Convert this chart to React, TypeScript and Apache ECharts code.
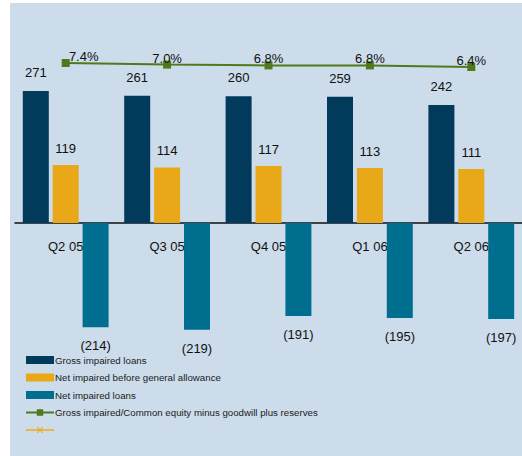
import React, { useEffect, useRef } from "react";
import * as echarts from "echarts";

const categories = ["Q2 05", "Q3 05", "Q4 05", "Q1 06", "Q2 06"];
const grossImpaired = [271, 261, 260, 259, 242];
const netBeforeAllowance = [119, 114, 117, 113, 111];
const netImpaired = [-214, -219, -191, -195, -197];
const ratioPct = [7.4, 7.0, 6.8, 6.8, 6.4];

const seriesNames = [
  "Gross impaired loans",
  "Net impaired before general allowance",
  "Net impaired loans",
  "Gross impaired/Common equity minus goodwill plus reserves",
  " ",
];

const crossPath =
  "path://M0,1L1,0L5,4L9,0L10,1L6,5L10,9L9,10L5,6L1,10L0,9L4,5Z";

export default function App() {
  const ref = useRef<HTMLDivElement>(null);
  useEffect(() => {
    if (!ref.current) return;
    const chart = echarts.init(ref.current, undefined, { renderer: "svg" });
    const font = "Liberation Sans, Arial, sans-serif";
    chart.setOption({
      animation: false,
      textStyle: { fontFamily: font },
      graphic: [
        {
          type: "rect",
          left: 10,
          top: 3,
          z: -10,
          shape: { width: 512, height: 453 },
          style: { fill: "#CCDCEB" },
          silent: true,
        },
      ],
      grid: { left: 15, top: 28, width: 511, height: 390, containLabel: false },
      legend: {
        orient: "vertical",
        left: 25,
        top: 354,
        itemWidth: 28,
        itemHeight: 8,
        itemGap: 5.5,
        padding: 0,
        data: [
          { name: seriesNames[0], icon: "rect" },
          { name: seriesNames[1], icon: "rect" },
          { name: seriesNames[2], icon: "rect" },
          { name: seriesNames[3] },
          { name: seriesNames[4] },
        ],
        textStyle: {
          fontSize: 9.7,
          color: "#1a1a1a",
          lineHeight: 12,
          fontFamily: font,
          padding: [0, 0, 0, -4],
        },
        selectedMode: false,
      },
      xAxis: {
        type: "category",
        data: categories,
        axisLine: { onZero: true, lineStyle: { color: "#111", width: 1.5 } },
        axisTick: { show: false },
        axisLabel: { fontSize: 13, color: "#111", margin: -178 },
      },
      yAxis: [
        { type: "value", min: -400, max: 400, show: false, splitLine: { show: false } },
        { type: "value", min: -81.35, max: 16.15, show: false, splitLine: { show: false } },
      ],
      series: [
        {
          name: seriesNames[0],
          type: "bar",
          data: grossImpaired,
          barWidth: 26,
          barGap: "15%",
          itemStyle: { color: "#023A5C" },
          label: { show: true, position: "top", distance: 12, fontSize: 13, color: "#111" },
        },
        {
          name: seriesNames[1],
          type: "bar",
          data: netBeforeAllowance,
          barWidth: 26,
          barGap: "15%",
          itemStyle: { color: "#E8A817" },
          label: { show: true, position: "top", distance: 10, fontSize: 13, color: "#111" },
        },
        {
          name: seriesNames[2],
          type: "bar",
          data: netImpaired,
          barWidth: 26,
          barGap: "15%",
          itemStyle: { color: "#006F8F" },
          label: {
            show: true,
            position: "bottom",
            distance: 12,
            fontSize: 13,
            color: "#111",
            formatter: (p: any) => "(" + Math.abs(p.value) + ")",
          },
        },
        {
          name: seriesNames[3],
          type: "line",
          yAxisIndex: 1,
          data: ratioPct.map((v, i) => ({
            value: v,
            label: i === 0 ? { offset: [18, 4] } : undefined,
          })),
          symbol: "rect",
          symbolSize: 8,
          lineStyle: { color: "#4E7A1C", width: 2 },
          itemStyle: { color: "#4E7A1C" },
          label: {
            show: true,
            position: "top",
            distance: 0,
            offset: [0, 4],
            fontSize: 13,
            color: "#111",
            formatter: (p: any) => p.value.toFixed(1) + "%",
          },
        },
        {
          name: seriesNames[4],
          type: "line",
          yAxisIndex: 1,
          data: [],
          symbol: crossPath,
          symbolSize: 8,
          lineStyle: { color: "#E8B84B", width: 2 },
          itemStyle: { color: "#E8A817" },
        },
      ],
    });
    return () => chart.dispose();
  }, []);
  return (
    <div
      ref={ref}
      style={{ position: "absolute", left: 0, top: 0, width: 522, height: 456 }}
    />
  );
}
